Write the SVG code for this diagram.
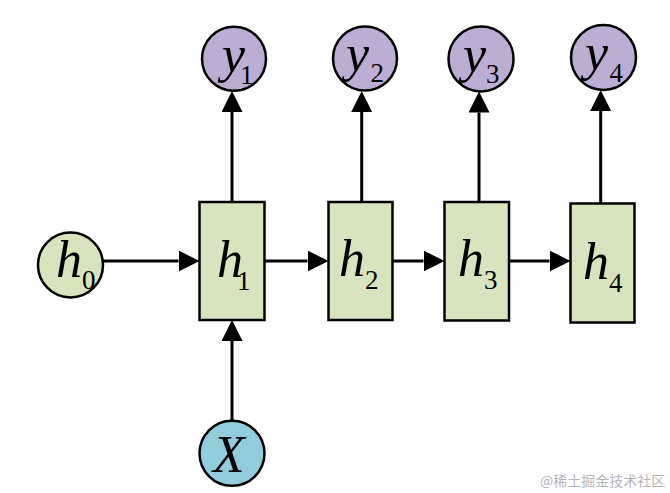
<svg xmlns="http://www.w3.org/2000/svg" width="670" height="493" viewBox="0 0 670 493">
  <style>
    .hbox { fill: #d7e4bd; stroke: #000; stroke-width: 2.5; }
    .hcirc { fill: #d7e4bd; stroke: #000; stroke-width: 2.5; }
    .ycirc { fill: #bcaed3; stroke: #000; stroke-width: 2.5; }
    .xcirc { fill: #92cddc; stroke: #000; stroke-width: 2.5; }
    .conn { stroke: #000; stroke-width: 3; fill: none; marker-end: url(#arr); }
    .var { font-family: "Liberation Serif", "Times New Roman", serif; font-style: italic; font-size: 52px; fill: #000; }
    .sub { font-style: normal; font-size: 27px; }
    .wm { font-family: "Noto Sans CJK SC", "Noto Sans", sans-serif; font-size: 14px; fill: #b5b5b5; }
  </style>
  <defs>
    <marker id="arr" markerUnits="userSpaceOnUse" markerWidth="22" markerHeight="22" refX="0" refY="10.5" orient="auto">
      <path d="M0,0 L21,10.5 L0,21 z" fill="#000"/>
    </marker>
  </defs>
  <rect width="670" height="493" fill="#fff"/>

  <g id="connectors">
    <line class="conn" x1="103" y1="261" x2="178.5" y2="261"/>
    <line class="conn" x1="264.5" y1="261" x2="307.5" y2="261"/>
    <line class="conn" x1="392.5" y1="261" x2="423.5" y2="261"/>
    <line class="conn" x1="509" y1="261" x2="549.5" y2="261"/>
    <line class="conn" x1="232" y1="202" x2="232" y2="112"/>
    <line class="conn" x1="361.7" y1="202" x2="361.7" y2="112"/>
    <line class="conn" x1="479" y1="202" x2="479" y2="112.5"/>
    <line class="conn" x1="600.7" y1="203.5" x2="600.7" y2="111"/>
    <line class="conn" x1="232" y1="421" x2="232" y2="341"/>
  </g>

  <g id="h0">
    <circle class="hcirc" cx="70.5" cy="265" r="32.5"/>
    <text class="var" x="56" y="276.5">h<tspan class="sub" dy="12.5">0</tspan></text>
  </g>
  <g id="h1">
    <rect class="hbox" x="199.5" y="202" width="65" height="118"/>
    <text class="var" x="217" y="276.5">h<tspan class="sub" dx="-6" dy="13.5">1</tspan></text>
  </g>
  <g id="h2">
    <rect class="hbox" x="328.5" y="202" width="64" height="118"/>
    <text class="var" x="339" y="276">h<tspan class="sub" dy="13.3">2</tspan></text>
  </g>
  <g id="h3">
    <rect class="hbox" x="444.5" y="202" width="64.5" height="118.5"/>
    <text class="var" x="458" y="276">h<tspan class="sub" dy="13">3</tspan></text>
  </g>
  <g id="h4">
    <rect class="hbox" x="570.5" y="203.5" width="64" height="119"/>
    <text class="var" x="583" y="279">h<tspan class="sub" dy="12.7">4</tspan></text>
  </g>

  <g id="y1">
    <circle class="ycirc" cx="234" cy="58.7" r="32"/>
    <text class="var" x="222" y="72">y<tspan class="sub" dx="-5" dy="12">1</tspan></text>
  </g>
  <g id="y2">
    <circle class="ycirc" cx="365" cy="58.5" r="32"/>
    <text class="var" x="346" y="71">y<tspan class="sub" dx="1.4" dy="10.7">2</tspan></text>
  </g>
  <g id="y3">
    <circle class="ycirc" cx="481" cy="59" r="32.5"/>
    <text class="var" x="463" y="72">y<tspan class="sub" dy="11.3">3</tspan></text>
  </g>
  <g id="y4">
    <circle class="ycirc" cx="603.5" cy="57.5" r="32.5"/>
    <text class="var" x="585" y="70">y<tspan class="sub" dx="1.4" dy="11.7">4</tspan></text>
  </g>

  <g id="X">
    <circle class="xcirc" cx="232" cy="453.3" r="32.5"/>
    <text class="var" x="213" y="471.7">X</text>
  </g>

  <text class="wm" x="540" y="486">@稀土掘金技术社区</text>
</svg>
